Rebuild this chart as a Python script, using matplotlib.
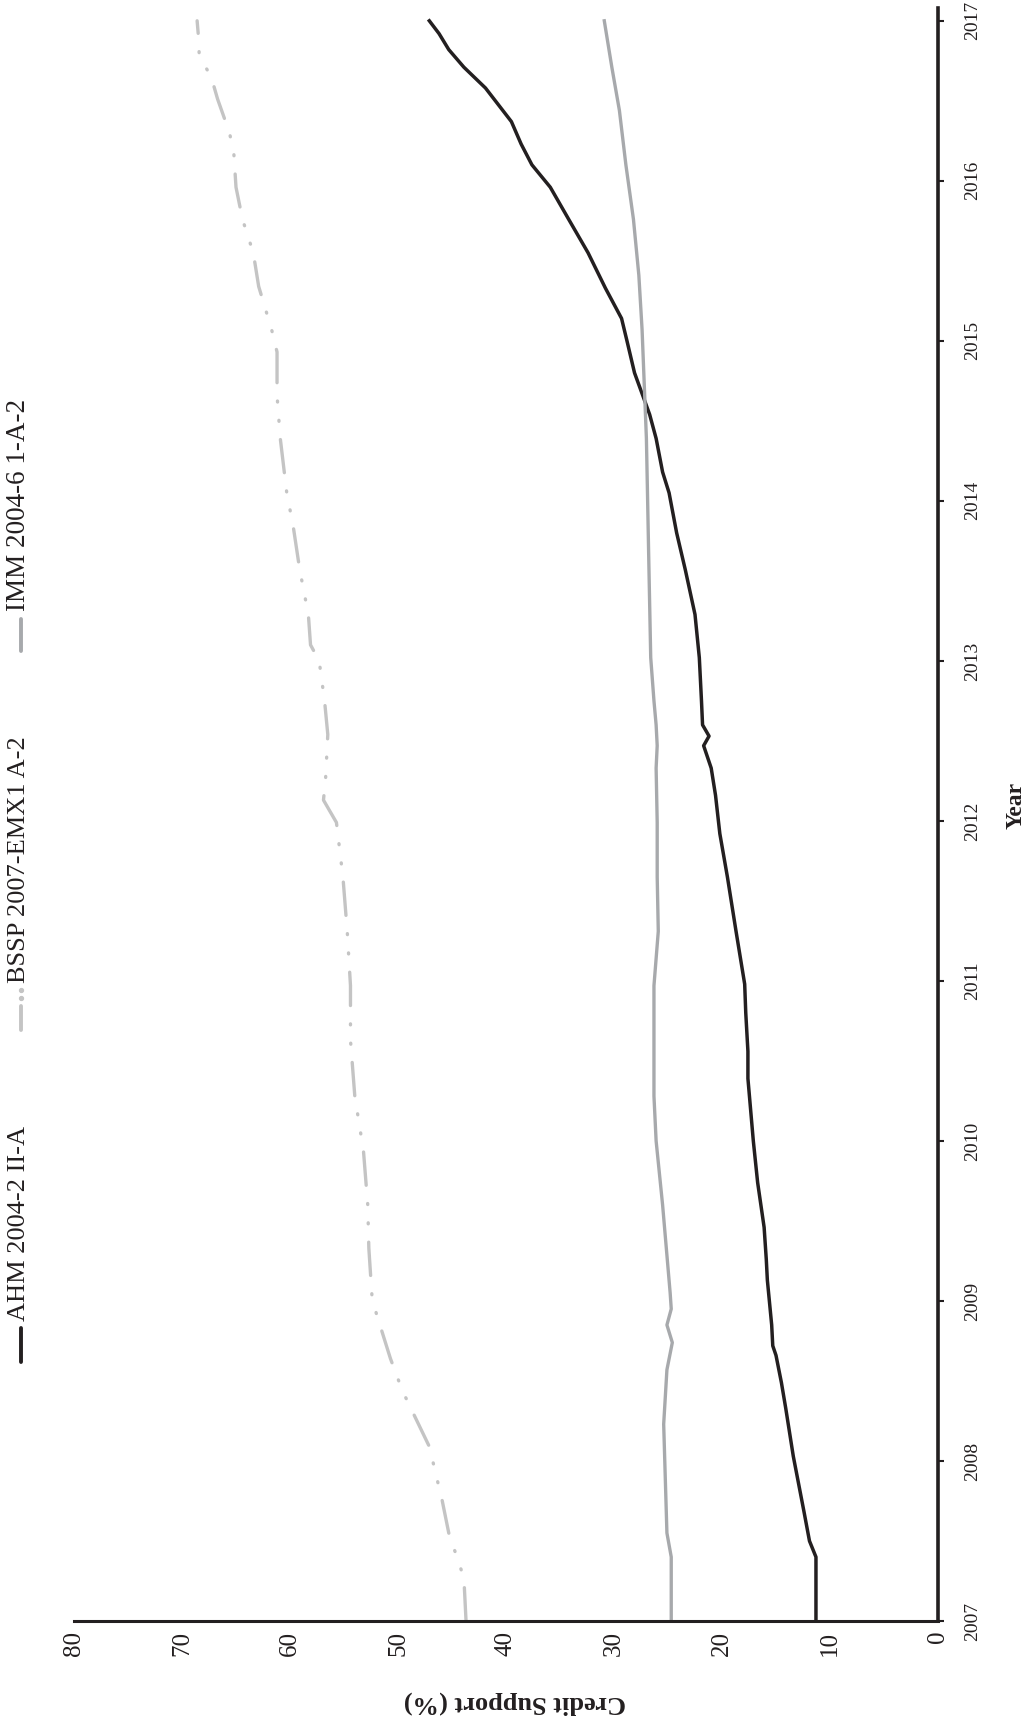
import matplotlib
matplotlib.use("Agg")
import matplotlib.pyplot as plt
from matplotlib.lines import Line2D

plt.rcParams['font.family'] = ['Liberation Serif', 'DejaVu Serif']

# AHM 2004-2 II-A
ahm_year = [2007.0, 2007.4, 2007.5, 2007.68, 2008.03, 2008.33, 2008.49, 2008.66, 2008.72, 2008.85,
            2009.13, 2009.26, 2009.46, 2009.74, 2010.0, 2010.39, 2010.56, 2010.8, 2010.98, 2011.31,
            2011.65, 2011.92, 2012.16, 2012.33, 2012.47, 2012.53, 2012.6, 2012.75, 2013.02, 2013.29,
            2013.57, 2013.8, 2014.05, 2014.18, 2014.39, 2014.54, 2014.8, 2015.0, 2015.14, 2015.33,
            2015.55, 2015.76, 2015.96, 2016.1, 2016.23, 2016.37, 2016.58, 2016.71, 2016.82, 2016.92,
            2017.0]
ahm_val = [11.3, 11.3, 11.9, 12.4, 13.4, 14.1, 14.5, 15.0, 15.3, 15.4,
           15.8, 15.9, 16.1, 16.7, 17.1, 17.6, 17.6, 17.8, 17.9, 18.7,
           19.5, 20.2, 20.6, 21.0, 21.7, 21.2, 21.8, 21.9, 22.1, 22.5,
           23.4, 24.2, 24.9, 25.5, 26.1, 26.7, 28.1, 28.8, 29.3, 30.8,
           32.4, 34.2, 35.9, 37.6, 38.6, 39.5, 41.9, 43.9, 45.3, 46.2,
           47.1]

# BSSP 2007-EMX1 A-2
bssp_year = [2007.0, 2007.27, 2007.55, 2007.75, 2008.09, 2008.44, 2008.64, 2008.92, 2009.02, 2009.33,
             2009.6, 2009.94, 2010.28, 2010.63, 2010.97, 2011.31, 2011.65, 2011.99, 2012.13, 2012.27,
             2012.54, 2012.75, 2013.0, 2013.1, 2013.29, 2013.57, 2013.84, 2014.05, 2014.39, 2014.66,
             2014.93, 2015.07, 2015.34, 2015.55, 2015.76, 2015.96, 2016.17, 2016.3, 2016.51, 2016.65,
             2016.78, 2016.92, 2017.0]
bssp_val = [43.7, 43.9, 45.3, 45.9, 47.1, 49.6, 50.7, 52.0, 52.4, 52.7,
            52.8, 53.2, 54.0, 54.4, 54.4, 54.7, 55.1, 55.7, 56.9, 56.7,
            56.5, 56.8, 57.3, 58.1, 58.3, 59.1, 59.7, 60.3, 60.9, 61.2,
            61.2, 61.7, 62.9, 63.4, 64.4, 65.0, 65.2, 65.6, 66.7, 67.3,
            68.4, 68.5, 68.6]

# IMM 2004-6 1-A-2
imm_year = [2007.0, 2007.4, 2007.55, 2008.23, 2008.57, 2008.74, 2008.85, 2008.95, 2009.05, 2009.6,
            2010.0, 2010.28, 2010.63, 2010.97, 2011.31, 2011.65, 2011.99, 2012.33, 2012.47, 2012.6,
            2012.75, 2013.02, 2013.36, 2013.7, 2014.05, 2014.39, 2014.73, 2015.07, 2015.41, 2015.76,
            2016.1, 2016.44, 2016.71, 2017.0]
imm_val = [24.7, 24.7, 25.1, 25.4, 25.1, 24.6, 25.1, 24.7, 24.8, 25.5,
           26.1, 26.3, 26.3, 26.3, 25.9, 26.0, 26.0, 26.1, 26.0, 26.1,
           26.3, 26.6, 26.7, 26.8, 26.9, 27.0, 27.2, 27.4, 27.7, 28.2,
           28.9, 29.5, 30.2, 30.9]

labels = ['AHM 2004-2 II-A', 'BSSP 2007-EMX1 A-2', 'IMM 2004-6 1-A-2']
year_ticks = list(range(2007, 2018))
credit_ticks = [0, 10, 20, 30, 40, 50, 60, 70, 80]

dark = '#231f20'
mid = '#a7a9ac'
light = '#c4c4c4'
dashdotdot = (0, (10, 5.5, 0.3, 5.5, 0.3, 5.5))

W, H = 1027, 1716
fig = plt.figure(figsize=(W / 100, H / 100), dpi=100)
ax = fig.add_axes([74 / W, 95 / H, 864 / W, 1613 / H])

# chart is drawn turned a quarter turn: credit runs right-to-left, years bottom-to-top
ax.plot(ahm_val, ahm_year, color=dark, lw=2.5, solid_joinstyle='round')
ax.plot(bssp_val, bssp_year, color=light, lw=2.4, linestyle=dashdotdot,
        dash_capstyle='round')
ax.plot(imm_val, imm_year, color=mid, lw=2.4, solid_joinstyle='round')

ax.set_xlim(80, 0)
ax.set_ylim(2007, 2017.08)

for s in ['top', 'left']:
    ax.spines[s].set_visible(False)
ax.spines['bottom'].set_linewidth(2.2)
ax.spines['right'].set_linewidth(2.6)
ax.spines['bottom'].set_color(dark)
ax.spines['right'].set_color(dark)

ax.set_xticks(credit_ticks)
ax.set_xticklabels([str(t) for t in credit_ticks], rotation=90, fontsize=18, color=dark)
ax.tick_params(axis='x', length=0, pad=7)

ax.yaxis.tick_right()
ax.set_yticks(year_ticks)
ax.set_yticklabels([str(t) for t in year_ticks], rotation=90, fontsize=14,
                   color=dark, va='center')
ax.tick_params(axis='y', direction='out', length=4.5, width=1.5, color=dark, pad=14)


def fx(px):
    return px / W


def fy(py):
    return 1 - py / H


fig.text(fx(515), fy(1703), 'Credit Support (%)', rotation=180, ha='center', va='center',
         fontsize=19, fontweight='bold', color=dark)
fig.text(fx(1016), fy(805), 'Year', rotation=90, ha='center', va='center',
         fontsize=17, fontweight='bold', color=dark)

# legend, turned with the chart
fig.add_artist(Line2D([fx(21), fx(21)], [fy(1362), fy(1328)], transform=fig.transFigure,
                      color=dark, lw=2.8, solid_capstyle='round'))
fig.text(fx(19), fy(1321), labels[0], rotation=90, ha='center', va='bottom',
         fontsize=19, color=dark)

fig.add_artist(Line2D([fx(21), fx(21)], [fy(1030), fy(1006)], transform=fig.transFigure,
                      color=light, lw=2.8, solid_capstyle='round'))
fig.add_artist(Line2D([fx(21), fx(21)], [fy(998), fy(990)], transform=fig.transFigure,
                      color=light, lw=0, marker='o', markersize=2.8))
fig.text(fx(19), fy(983), labels[1], rotation=90, ha='center', va='bottom',
         fontsize=19, color=dark)

fig.add_artist(Line2D([fx(21), fx(21)], [fy(651), fy(619)], transform=fig.transFigure,
                      color=mid, lw=2.8, solid_capstyle='round'))
fig.text(fx(19), fy(611), labels[2], rotation=90, ha='center', va='bottom',
         fontsize=19.5, color=dark)

fig.savefig('out.png', dpi=100)
